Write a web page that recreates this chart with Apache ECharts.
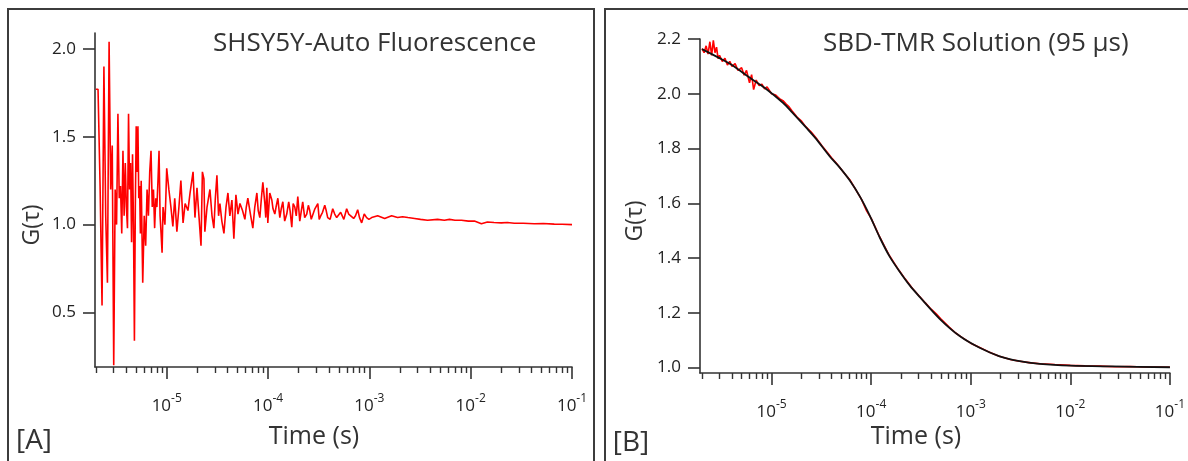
<!DOCTYPE html>
<html><head><meta charset="utf-8">
<script src="https://cdn.jsdelivr.net/npm/echarts@6/dist/echarts.min.js"></script>
<style>html,body{margin:0;padding:0;background:#fff}#c{width:1188px;height:461px}</style>
</head><body><div id="c"></div>
<script>
// ---------- Panel A: SHSY5Y auto fluorescence (time in microseconds) ----------
const timeA_us = [
  2.0,2.1,2.2,2.3,2.4,2.5,2.6,2.7,2.8,2.9,3.0,3.1,3.2,3.3,3.4,3.5,3.6,3.7,3.8,3.9,
  4.0,4.1,4.2,4.3,4.4,4.5,4.6,4.7,4.8,4.9,5.0,5.1,5.2,5.3,5.4,5.5,5.6,5.8,6.0,6.2,
  6.4,6.6,6.8,7.0,7.2,7.4,7.6,7.8,8.0,8.2,8.4,8.6,8.8,9.0,9.2,9.4,9.6,9.8,10,
  10.5,11,11.5,12,12.6,13.2,13.8,14.5,15.2,16.2,17.0,18.2,19.0,19.9,20.8,21.8,22.5,23.3,23.8,25.0,
  26.7,28.0,29.2,30.2,31.3,32.5,33.5,35.0,36.7,38.5,40.2,42.0,44.0,46.0,48.2,50.5,52.8,56.0,59.1,61.0,
  63.2,67.0,70.8,74.0,77.6,80.0,83.0,86.0,88.9,93.0,95.0,97.3,99.5,
  104,109,112,116.7,120,125,130.7,135,140,146,153,160,165,171.6,177,183.7,190,196.7,201,205.7,
  212,220,230,241,250,258,267,276,290,310,320,331,345,363,375,388,410,435,455,476,
  498,521,560,597,625,654,700,730,767,800,840,890,940,990,
  1054,1208,1416,1658,1900,2128,2400,2795,3200,3752,
  4710,5500,6180,7000,8110,9500,10890,12760,14630,17000,20090,23000,26980,33000,42460,52000,66830,80000,100000
];
const gA = [
  1.77,1.77,1.22,0.54,1.90,1.05,0.67,2.04,1.20,1.45,0.20,1.20,1.00,1.63,1.15,1.22,0.95,1.42,1.05,1.35,
  1.10,0.98,1.63,1.20,1.35,0.90,1.40,1.00,0.34,1.10,1.56,1.30,1.56,1.15,1.22,0.95,1.25,0.67,1.05,0.88,
  1.20,1.05,1.30,1.42,1.10,1.20,0.98,1.15,1.10,1.25,1.42,1.05,0.95,0.84,1.10,1.05,1.00,1.15,1.32,
  1.20,1.10,0.99,1.15,0.96,1.10,1.25,1.01,1.12,1.08,1.18,1.30,1.04,1.21,1.05,0.88,1.30,1.26,0.96,1.10,
  1.20,1.05,0.98,1.15,1.28,1.05,1.12,1.02,0.95,1.10,1.18,1.05,1.14,0.92,1.17,1.06,1.12,1.08,1.03,1.10,
  1.15,1.06,0.98,1.10,1.18,1.08,1.04,1.15,1.24,1.12,1.04,1.21,1.01,
  1.18,1.14,1.09,1.06,1.10,1.15,1.04,1.09,1.13,1.02,1.06,1.13,1.08,0.985,1.12,1.10,1.05,1.16,1.09,1.02,
  1.07,1.13,1.04,1.06,1.11,1.08,1.03,1.04,1.09,1.12,1.03,1.05,1.07,1.11,1.08,1.04,1.03,1.09,1.06,1.04,
  1.05,1.07,1.03,1.09,1.06,1.07,1.035,1.05,1.085,1.04,1.01,1.06,1.04,1.03,
  1.04,1.05,1.035,1.05,1.04,1.045,1.04,1.035,1.03,1.025,
  1.03,1.025,1.03,1.025,1.025,1.02,1.02,1.005,1.015,1.012,1.01,1.012,1.008,1.008,1.005,1.006,1.003,1.002,1.0
];

// ---------- Panel B: SBD-TMR solution (time in microseconds) ----------
const timeBdata_us = [
  2.0,2.1,2.2,2.3,2.4,2.5,2.6,2.7,2.8,2.9,3.0,3.2,3.4,3.6,3.8,4.0,4.3,4.6,5.0,5.3,
  5.6,6.0,6.3,6.6,7.0,7.5,8.0,8.5,9.0,10,11,12,13,14,15,16,18,20,22,25,
  28,32,36,40,45,50,55,61,70,80,90,100,110,120,135,150,170,190,220,260,
  300,350,400,450,500,600,700,800,1000,1200,1500,1900,2500,3000,4000,5000,7000,10000,14000,20000,
  28000,40000,55000,70000,100000
];
const gBdata = [
  2.165,2.150,2.175,2.145,2.190,2.140,2.195,2.150,2.170,2.128,2.140,2.118,2.130,2.105,2.118,2.100,2.110,2.085,2.095,2.068,
  2.085,2.040,2.070,2.015,2.050,2.030,2.035,2.018,2.025,2.000,1.995,1.982,1.975,1.962,1.952,1.938,1.915,1.900,1.880,1.860,
  1.838,1.810,1.787,1.766,1.745,1.724,1.705,1.686,1.650,1.614,1.572,1.545,1.512,1.482,1.445,1.413,1.382,1.355,1.323,1.289,
  1.263,1.236,1.213,1.196,1.178,1.150,1.127,1.112,1.089,1.075,1.058,1.042,1.029,1.024,1.017,1.014,1.011,1.008,1.006,1.005,
  1.003,1.004,1.002,1.002,1.001
];
const timeBfit_us = [
  2.0,3.0,4.0,6.0,8.5,13,16,22.4,28,38.4,48.4,61,76.9,96.8,121.9,153.5,193.5,243.8,307,487,
  774,1228,1949,3090,4909,10000,26540,100000
];
const gBfit = [
  2.163,2.130,2.105,2.059,2.022,1.967,1.933,1.875,1.835,1.771,1.730,1.683,1.625,1.555,1.475,1.405,1.350,1.300,1.258,1.178,
  1.115,1.072,1.041,1.023,1.0135,1.007,1.004,1.001
];

// ---------- axis ticks ----------
const majorTicks = [1e-5, 1e-4, 1e-3, 1e-2, 1e-1];
const minorMantissas = [2, 3, 4, 5, 6, 7, 8, 9];
const minorDecades = [1e-6, 1e-5, 1e-4, 1e-3, 1e-2];
const yTicksA = [0.5, 1.0, 1.5, 2.0];
const yTicksB = [1.0, 1.2, 1.4, 1.6, 1.8, 2.0, 2.2];

const minorTicks = [];
minorDecades.forEach(d => minorMantissas.forEach(m => minorTicks.push(m * d)));

const FONT = '"Open Sans", "Liberation Sans", sans-serif';
const AX = '#333';
const toSec = (ts, gs) => ts.map((t, i) => [t * 1e-6, gs[i]]);

function xAxes(grid, min) {
  return [
    {
      type: 'log', logBase: 10, gridIndex: grid, position: 'bottom', min: min, max: 0.1,
      axisLine: { show: true, onZero: false, lineStyle: { color: AX, width: 1.6 } },
      axisTick: { show: true, inside: false, length: 12, customValues: majorTicks, lineStyle: { color: AX, width: 1.6 } },
      axisLabel: {
        customValues: majorTicks, margin: 26,
        formatter: v => '{b|10}{s|' + Math.round(Math.log10(v)) + '}',
        rich: {
          b: { fontSize: 17, fontFamily: FONT, color: '#222', lineHeight: 22, verticalAlign: 'bottom' },
          s: { fontSize: 12, fontFamily: FONT, color: '#222', lineHeight: 22, verticalAlign: 'top' }
        }
      },
      splitLine: { show: false }, minorTick: { show: false }
    },
    {
      type: 'log', logBase: 10, gridIndex: grid, position: 'bottom', min: min, max: 0.1,
      axisLine: { show: false },
      axisTick: { show: true, inside: false, length: 6, customValues: minorTicks, lineStyle: { color: AX, width: 1.4 } },
      axisLabel: { show: false },
      splitLine: { show: false }, minorTick: { show: false }
    }
  ];
}
function yAxis(grid, min, max, ticks) {
  return {
    type: 'value', gridIndex: grid, min: min, max: max,
    axisLine: { show: true, onZero: false, lineStyle: { color: AX, width: 1.6 } },
    axisTick: { show: true, length: 12, customValues: ticks, lineStyle: { color: AX, width: 1.6 } },
    axisLabel: { customValues: ticks, margin: 19, fontSize: 17, fontFamily: FONT, color: '#222',
                 formatter: v => v.toFixed(1) },
    splitLine: { show: false }
  };
}
function txt(text, x, y, size, align, rot) {
  return { type: 'text', x: x, y: y, rotation: rot || 0, silent: true,
    style: { text: text, fontSize: size, fontFamily: FONT, fill: '#333', align: align || 'center', verticalAlign: 'middle' } };
}

const chart = echarts.init(document.getElementById('c'), null, { renderer: 'canvas' });
chart.setOption({
  animation: false,
  backgroundColor: '#fff',
  textStyle: { fontFamily: FONT },
  grid: [
    { left: 95, top: 33, width: 477, height: 334 },
    { left: 700, top: 39, width: 470, height: 334 }
  ],
  xAxis: [].concat(xAxes(0, 1.96e-6), xAxes(1, 1.91e-6)),
  yAxis: [ yAxis(0, 0.19, 2.09, yTicksA), yAxis(1, 0.98, 2.2, yTicksB) ],
  series: [
    { type: 'line', name: 'SHSY5Y', xAxisIndex: 0, yAxisIndex: 0, data: toSec(timeA_us, gA),
      showSymbol: false, lineStyle: { color: '#ff0000', width: 1.6 } },
    { type: 'line', name: 'SBD-TMR data', xAxisIndex: 2, yAxisIndex: 1, data: toSec(timeBdata_us, gBdata),
      showSymbol: false, lineStyle: { color: '#ff0000', width: 1.6 } },
    { type: 'line', name: 'fit', xAxisIndex: 2, yAxisIndex: 1, data: toSec(timeBfit_us, gBfit),
      showSymbol: false, smooth: 0.3, lineStyle: { color: '#111', width: 1.8 } }
  ],
  graphic: [
    { type: 'rect', silent: true, shape: { x: 8, y: 9, width: 586, height: 480 },
      style: { fill: 'none', stroke: '#3c3c3c', lineWidth: 2 } },
    { type: 'rect', silent: true, shape: { x: 605, y: 9, width: 600, height: 480 },
      style: { fill: 'none', stroke: '#3c3c3c', lineWidth: 2 } },
    txt('SHSY5Y-Auto Fluorescence', 213, 44, 26, 'left'),
    txt('SBD-TMR Solution (95 \u03bcs)', 823, 44, 26, 'left'),
    txt('G(\u03c4)', 32, 225, 23, 'center', Math.PI / 2),
    txt('G(\u03c4)', 635, 221, 23, 'center', Math.PI / 2),
    txt('Time (s)', 314, 437, 25, 'center'),
    txt('Time (s)', 916, 437, 25, 'center'),
    txt('[A]', 34, 441, 28, 'center'),
    txt('[B]', 631, 443, 28, 'center')
  ]
});
</script></body></html>
